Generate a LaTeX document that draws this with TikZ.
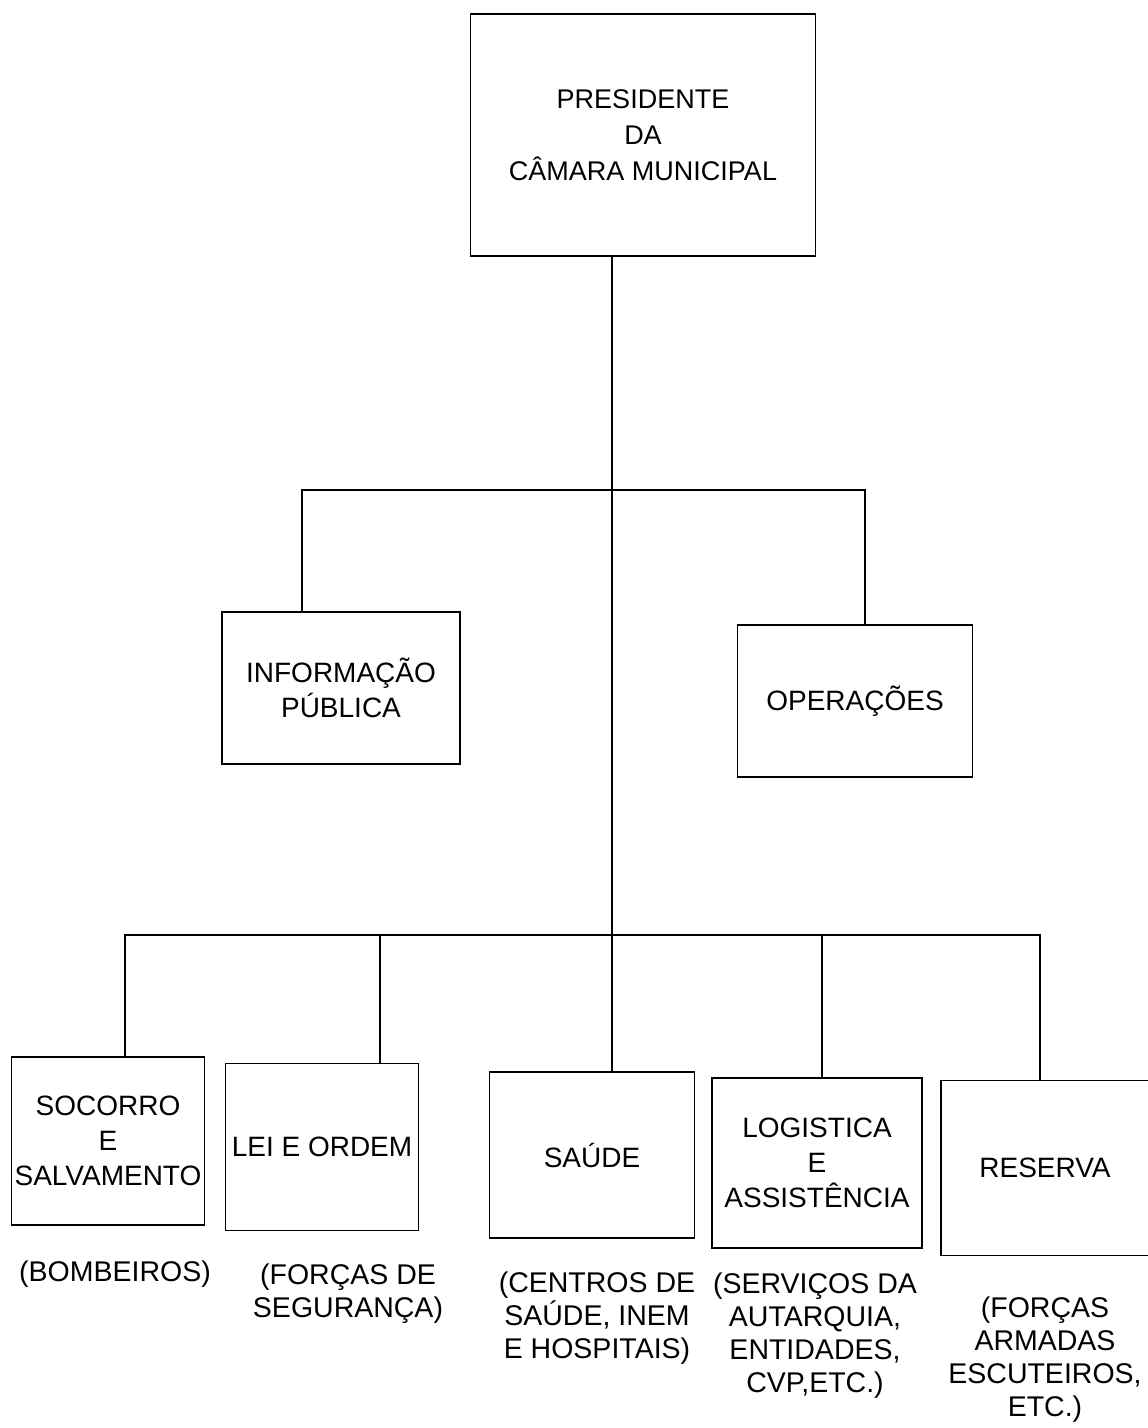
\documentclass[tikz,border=0pt]{standalone}
\usepackage{fontspec}
\setmainfont{Liberation Sans}
\begin{document}
\begin{tikzpicture}[x=1pt,y=-1pt,
  box/.style={draw, line width=1.5pt, align=center, inner sep=0pt,
    font=\fontsize{28}{35}\selectfont},
  note/.style={align=center, inner sep=0pt, font=\fontsize{28.5}{33}\selectfont},
  link/.style={line width=1.5pt}]
\useasboundingbox (0,0) rectangle (1148,1428);
% boxes
\node[box, font=\fontsize{27}{36}\selectfont, minimum width=345pt, minimum height=242pt] (pres) at (643,135)
  {PRESIDENTE\\DA\\CÂMARA MUNICIPAL};
\node[box, minimum width=238pt, minimum height=152pt] (info) at (341,688)
  {INFORMAÇÃO\\PÚBLICA};
\node[box, minimum width=235pt, minimum height=152pt] (ops) at (855,701)
  {OPERAÇÕES};
\node[box, minimum width=193pt, minimum height=168pt] (soc) at (108,1141)
  {SOCORRO\\E\\SALVAMENTO};
\node[box, minimum width=193pt, minimum height=167pt] (lei) at (322,1147)
  {LEI E ORDEM};
\node[box, minimum width=205pt, minimum height=166pt] (sau) at (592,1155)
  {SAÚDE};
\node[box, minimum width=210pt, minimum height=170pt] (log) at (817,1163)
  {LOGISTICA\\E\\ASSISTÊNCIA};
\node[box, minimum width=208pt, minimum height=175pt] (res) at (1045,1168)
  {RESERVA};
% notes
\node[note] (nsoc) at (115,1274) {(BOMBEIROS)};
\node[note] (nlei) at (348,1294) {(FORÇAS DE\\SEGURANÇA)};
\node[note] (nsau) at (597,1318) {(CENTROS DE\\SAÚDE, INEM\\E HOSPITAIS)};
\node[note] (nlog) at (815,1336) {(SERVIÇOS DA\\AUTARQUIA,\\ENTIDADES,\\CVP,ETC.)};
\node[note] (nres) at (1045,1360) {(FORÇAS\\ARMADAS\\ESCUTEIROS,\\ETC.)};
% junctions
\coordinate (t) at (612,0);
\coordinate (bar1) at (0,490);
\coordinate (bar2) at (0,935);
\coordinate (xinfo) at (302,0);
\coordinate (xops) at (865,0);
\coordinate (xsoc) at (125,0);
\coordinate (xlei) at (380,0);
\coordinate (xlog) at (822,0);
\coordinate (xres) at (1040,0);
% connectors
\draw[link] (pres.south -| t) -- (sau.north -| t);
\draw[link] (info.north -| xinfo) -- (bar1 -| xinfo) -- (bar1 -| xops) -- (ops.north -| xops);
\draw[link] (soc.north -| xsoc) -- (bar2 -| xsoc) -- (bar2 -| xres) -- (res.north -| xres);
\draw[link] (lei.north -| xlei) -- (bar2 -| xlei);
\draw[link] (log.north -| xlog) -- (bar2 -| xlog);
\end{tikzpicture}
\end{document}
